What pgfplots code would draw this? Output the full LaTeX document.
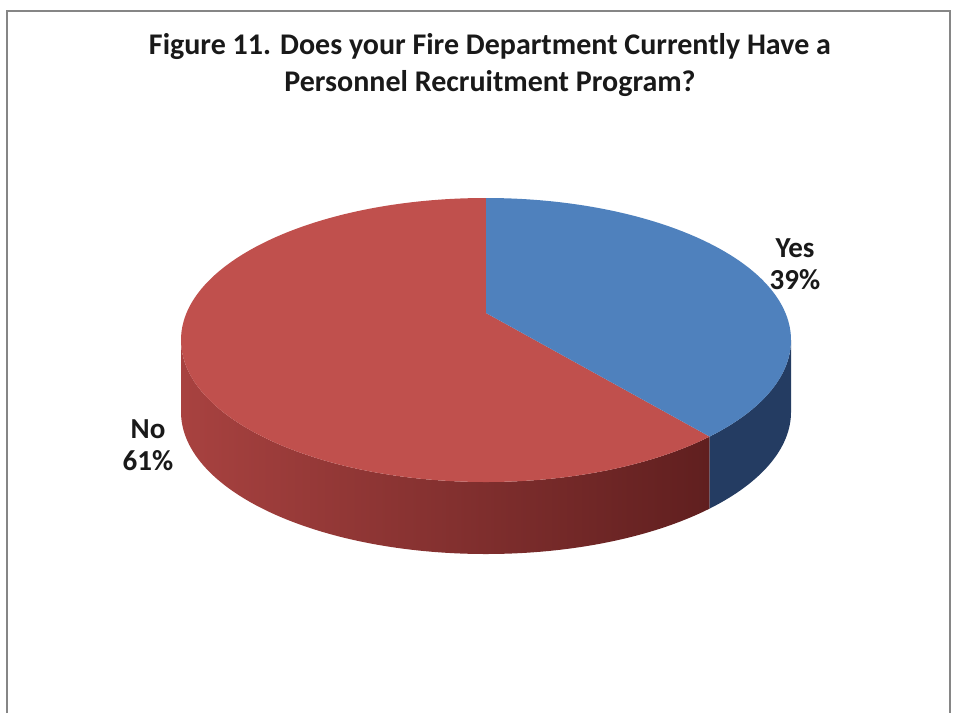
\documentclass[border=0pt]{standalone}
\usepackage{pgfplots}
\usepackage{pgfplotstable}
\pgfplotsset{compat=1.18}
\usepackage{fontspec}
\setmainfont{Carlito}
\definecolor{redtop}{RGB}{192,80,77}
\definecolor{bluetop}{RGB}{79,129,189}
\definecolor{redsideL}{RGB}{168,66,64}
\definecolor{redsideM}{RGB}{128,44,44}
\definecolor{redsideR}{RGB}{96,31,31}
\definecolor{blueside}{RGB}{36,60,98}
\definecolor{framegray}{RGB}{134,134,134}

\pgfplotstableread{
label value
Yes 39
No 61
}\piedata

\begin{document}%
\begin{tikzpicture}
\pgfplotstablegetelem{0}{value}\of\piedata
\let\yesval\pgfplotsretval
\pgfmathsetmacro\th{90-3.6*\yesval}
\pgfmathsetmacro\vz{0.19}
\pgfmathsetmacro\den{1+\vz*sin(\th)}
\pgfmathsetmacro\uu{cos(\th)*sqrt(1-\vz*\vz)/\den}
\pgfmathsetmacro\vv{(sin(\th)+\vz)/\den}
\pgfmathsetmacro\ph{atan2(\vv,\uu)}
\pgfmathsetmacro\phe{\ph+360}
\pgfmathsetmacro\ex{486+305*cos(\ph)}
\pgfmathsetmacro\ey{373+142*sin(\ph)}
\begin{axis}[scale only axis, width=478pt, height=356.5pt,
  xmin=0, xmax=956, ymin=0, ymax=713, hide axis, clip=false]
% page extent
\path (axis cs:0,0) rectangle (axis cs:956,713);
% frame
\draw[framegray, line width=1pt] (axis cs:7,0) -- (axis cs:7,702) -- (axis cs:950,702) -- (axis cs:950,0);
% red side
\shade[left color=redsideL, middle color=redsideM, right color=redsideR]
  (axis cs:181,373) arc[start angle=180, end angle=\phe, x radius=152.5pt, y radius=71pt]
  -- ++(0pt,-36pt) arc[start angle=\phe, end angle=180, x radius=152.5pt, y radius=71pt] -- cycle;
% blue side
\fill[blueside]
  (axis cs:\ex,\ey) arc[start angle=\phe, end angle=360, x radius=152.5pt, y radius=71pt]
  -- ++(0pt,-36pt) arc[start angle=360, end angle=\phe, x radius=152.5pt, y radius=71pt] -- cycle;
% top faces
\fill[redtop] (axis cs:486,400) -- (axis cs:486,515)
  arc[start angle=90, end angle=\phe, x radius=152.5pt, y radius=71pt] -- cycle;
\fill[bluetop] (axis cs:486,400) -- (axis cs:\ex,\ey)
  arc[start angle=\ph, end angle=90, x radius=152.5pt, y radius=71pt] -- cycle;
% labels
\node[font=\bfseries\fontsize{14.5}{16}\selectfont, align=center, text=black!90] at (axis cs:795,449) {Yes\\39\%};
\node[font=\bfseries\fontsize{14.5}{16}\selectfont, align=center, text=black!90] at (axis cs:148,268) {No\\61\%};
% title
\node[font=\bfseries\fontsize{15}{18.5}\selectfont, align=center, text=black!90] at (axis cs:490,647.5)
  {Figure 11. Does your Fire Department Currently Have a\\Personnel Recruitment Program?};
\end{axis}
\end{tikzpicture}%
\end{document}
